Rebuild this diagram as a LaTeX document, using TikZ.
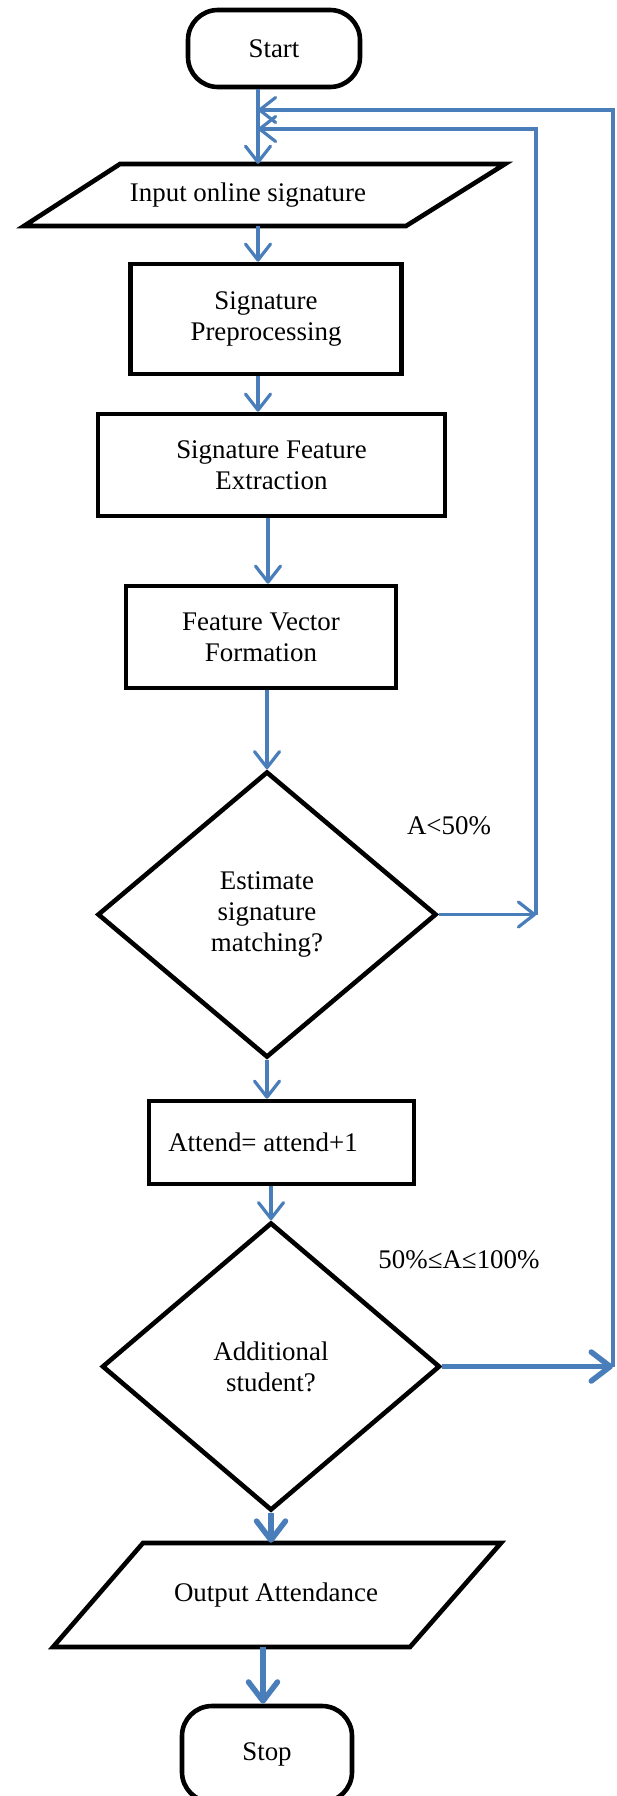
\documentclass[tikz,border=0pt]{standalone}
\usepackage{fontspec}
\setmainfont{Liberation Serif}
\usetikzlibrary{arrows.meta,shapes.geometric,calc}
\definecolor{flowblue}{RGB}{74,126,187}
\begin{document}
\begin{tikzpicture}[x=1pt,y=-1pt,
  every node/.style={font=\fontsize{26.9}{31}\selectfont, inner sep=0pt, align=center},
  box/.style={draw=black, line width=4.6pt, rectangle},
  term/.style={draw=black, line width=4.6pt, rectangle, rounded corners=30pt},
  dia/.style={draw=black, line width=4.6pt, diamond},
  outline/.style={draw=black, line width=4.6pt, line join=miter},
  arr/.style={draw=flowblue, line width=3.2pt, -{Straight Barb[length=16pt,width=25pt,round]}},
  arrthick/.style={draw=flowblue, line width=5.5pt, -{Straight Barb[length=19pt,width=29pt,round]}},
  fbline/.style={draw=flowblue, line width=3.2pt}]
\useasboundingbox (0,0) rectangle (617,1796);

% nodes
\node[term, minimum width=172pt, minimum height=77pt] (start) at (274,48.5) {Start};
\node[minimum height=62pt] (inp) at (248,195) {Input online signature};
\draw[outline] (120,164) -- (505,164) -- (406,226) -- (24,226) -- cycle;
\node[box, minimum width=271pt, minimum height=110pt] (pre) at (266,319) {Signature\\Preprocessing};
\node[box, minimum width=347pt, minimum height=102pt] (ext) at (271.5,465) {Signature Feature\\Extraction};
\node[box, minimum width=270pt, minimum height=102pt] (fv) at (261,637) {Feature Vector\\Formation};
\node[dia, minimum width=339pt, minimum height=286pt] (d1) at (267,914.5) {Estimate\\signature\\matching?};
\node[box, minimum width=265pt, minimum height=83pt] (att) at (281.5,1142.5) {Attend= attend+1\hspace*{37pt}};
\node[dia, minimum width=338pt, minimum height=288pt] (d2) at (271,1366.5) {Additional\\student?};
\node[minimum height=104pt] (out) at (276,1595) {Output Attendance};
\draw[outline] (143,1543) -- (501,1543) -- (410,1647) -- (53,1647) -- cycle;
\node[term, minimum width=170pt, minimum height=96pt] (stop) at (267,1754) {Stop};

\node (l1) at (449,826) {A<50\%};
\node (l2) at (459,1260) {50\%≤A≤100\%};

% feedback coordinates
\coordinate (c1) at (536,914.5);
\coordinate (c1t) at (536,129);
\coordinate (j1) at (258,129);
\coordinate (c2) at (613,1366.5);
\coordinate (c2t) at (613,110);
\coordinate (j2) at (258,110);

% main connectors
\draw[arr] ([xshift=-16pt]start.south) -- ([xshift=10pt]inp.north);
\draw[arr] ([xshift=10pt]inp.south) -- ([xshift=-8pt]pre.north);
\draw[arr] ([xshift=-8pt]pre.south) -- ([xshift=-13.5pt]ext.north);
\draw[arr] ([xshift=-3.5pt]ext.south) -- ([xshift=7pt]fv.north);
\draw[arr] (fv.south -| d1.north) -- (d1.north);
\draw[arr] (d1.south) -- (d1.south |- att.north);
\draw[arr] (att.south -| d2.north) -- (d2.north);
\draw[arrthick] (d2.south) -- (d2.south |- out.north);
\draw[arrthick] ([xshift=-4pt]stop.north |- out.south) -- ([xshift=-4pt]stop.north);

% feedback connectors
\draw[arr] (d1.east) -- (c1);
\draw[arr] (c1) -- (c1t) -- (j1);
\draw[arrthick] (d2.east) -- (c2);
\draw[arr] (c2) -- (c2t) -- (j2);
\end{tikzpicture}
\end{document}
